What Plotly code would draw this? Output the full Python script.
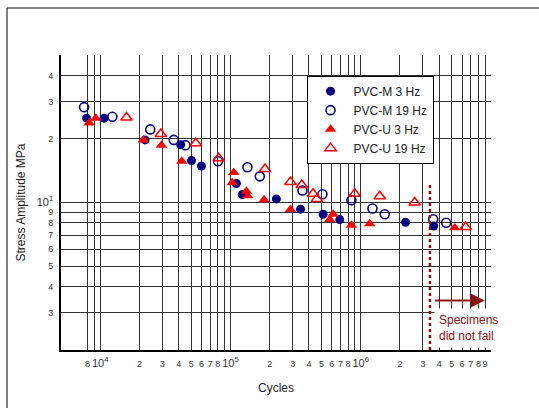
import math
import plotly.graph_objects as go

# Fatigue data: cycles to failure and stress amplitude (MPa)
pvcm3_cycles = [7850, 10700, 22100, 41500, 50200, 59900, 111000, 123000, 225000,
                345000, 514000, 690000, 2210000, 3630000]
pvcm3_stress = [25.1, 25.1, 19.8, 18.8, 15.8, 14.9, 12.3, 10.9, 10.4,
                9.3, 8.8, 8.3, 8.06, 7.74]

pvcm19_cycles = [7520, 12400, 24200, 36700, 45100, 80300, 135000, 168000, 357000,
                 508000, 848000, 1230000, 1530000, 3600000, 4530000]
pvcm19_stress = [28.3, 25.5, 22.2, 19.8, 18.7, 15.7, 14.7, 13.3, 11.4,
                 10.95, 10.26, 9.37, 8.8, 8.33, 8.02]

pvcu3_cycles = [8220, 9250, 21500, 29500, 42300, 106000, 103000, 132700, 135800,
                181000, 288700, 612800, 578100, 848400, 1172000, 5265000]
pvcu3_stress = [23.8, 25.1, 19.8, 18.7, 15.7, 13.86, 12.4, 11.3, 10.77,
                10.3, 9.26, 8.8, 8.3, 7.8, 7.94, 7.59]

pvcu19_cycles = [15900, 29200, 54200, 81300, 184000, 288700, 352600, 430500,
                 461900, 899500, 1399000, 2597000, 6394000]
pvcu19_stress = [25.3, 21.1, 19.1, 16.2, 14.4, 12.5, 12.1, 11.0,
                 10.4, 11.0, 10.7, 10.0, 7.66]

# Run-out marker: tests beyond this cycle count did not fail
runout_cycles = 3.4e6
runout_top_stress = 12.5
arrow_start_cycles = 3.63e6
arrow_end_cycles = 8.95e6
arrow_stress = 3.43

# Axis ticks
x_tickvals = [8e3, 1e4, 2e4, 3e4, 4e4, 5e4, 6e4, 7e4, 8e4, 1e5,
              2e5, 3e5, 4e5, 5e5, 6e5, 7e5, 8e5, 1e6,
              2e6, 3e6, 4e6, 5e6, 6e6, 7e6, 8e6, 9e6]
BIG = '<span style="font-size:11px">10<sup>%d</sup></span>'
x_ticktext = ["8", BIG % 4, "2", "3", "4", "5", "6", "7", "8", BIG % 5,
              "2", "3", "4", "5", "6", "7", "8", BIG % 6,
              "2", "3", "4", "5", "6", "7", "8", "9"]
x_unlabelled_grid = [9e3, 9e4, 9e5]
y_tickvals = [3, 4, 5, 6, 7, 8, 9, 10, 20, 30, 40]
y_ticktext = ["3", "4", "5", "6", "7", "8", "9", BIG % 1, "2", "3", "4"]

NAVY = "#00007F"
RED = "#FF0000"
DARKRED = "#8B1010"
FONT = "Liberation Sans, Arial, sans-serif"
GRID = "#333"

fig = go.Figure()
fig.add_trace(go.Scatter(x=pvcm3_cycles, y=pvcm3_stress, mode="markers", name="PVC-M 3 Hz",
                         marker=dict(symbol="circle", size=9, color=NAVY, line=dict(width=0))))
fig.add_trace(go.Scatter(x=pvcm19_cycles, y=pvcm19_stress, mode="markers", name="PVC-M 19 Hz",
                         marker=dict(symbol="circle-open", size=9, color=NAVY, line=dict(width=1.6))))
fig.add_trace(go.Scatter(x=pvcu3_cycles, y=pvcu3_stress, mode="markers", name="PVC-U 3 Hz",
                         marker=dict(symbol="triangle-up", size=10, color=RED, line=dict(width=0))))
fig.add_trace(go.Scatter(x=pvcu19_cycles, y=pvcu19_stress, mode="markers", name="PVC-U 19 Hz",
                         marker=dict(symbol="triangle-up-open", size=10, color=RED, line=dict(width=1.5))))

# dotted run-out line
fig.add_trace(go.Scatter(x=[runout_cycles, runout_cycles], y=[2, runout_top_stress], mode="lines",
                         line=dict(color=DARKRED, width=2.5, dash="dot"),
                         showlegend=False, hoverinfo="skip"))

annotations = [
    dict(x=math.log10(arrow_end_cycles), y=math.log10(arrow_stress),
         ax=math.log10(arrow_start_cycles), ay=math.log10(arrow_stress),
         xref="x", yref="y", axref="x", ayref="y", text="", showarrow=True,
         arrowhead=2, arrowsize=1.4, arrowwidth=2, arrowcolor=DARKRED),
    dict(x=math.log10(3.68e6), y=0.405, xref="x", yref="y", xanchor="left", yanchor="middle",
         text="Specimens<br>did not fail", showarrow=False, align="left",
         font=dict(family=FONT, size=12, color=DARKRED), bgcolor="white", borderpad=4),
]

shapes = [
    # outer frame (top and left edges)
    dict(type="line", xref="paper", yref="paper", x0=-0.1256, x1=1.2, y0=1.1593, y1=1.1593,
         line=dict(color="#555", width=1.5)),
    dict(type="line", xref="paper", yref="paper", x0=-0.1256, x1=-0.1256, y0=1.1593, y1=-0.3,
         line=dict(color="#555", width=1.5)),
]

fig.update_layout(
    width=539, height=408, autosize=False,
    margin=dict(l=61, r=48, t=55, b=58),
    paper_bgcolor="white", plot_bgcolor="white",
    font=dict(family=FONT, size=11, color="#222"),
    showlegend=True,
    legend=dict(x=0.571, y=0.93, xanchor="left", yanchor="top",
                bgcolor="white", bordercolor="black", borderwidth=1,
                font=dict(family=FONT, size=12, color="#222"), itemwidth=36,
                tracegroupgap=0),
    annotations=annotations,
    shapes=shapes,
)

fig.update_xaxes(type="log", range=[math.log10(5000), 7],
                 tickmode="array", tickvals=x_tickvals, ticktext=x_ticktext, tickangle=0,
                 tickfont=dict(size=9, color="#333"), ticks="", ticklabelstandoff=4,
                 showgrid=True, gridcolor=GRID, gridwidth=1,
                 minor=dict(tickmode="array", tickvals=x_unlabelled_grid, showgrid=True,
                            gridcolor=GRID, gridwidth=1, ticks=""),
                 showline=True, linecolor="black", linewidth=2, zeroline=False,
                 title=dict(text="Cycles", font=dict(size=12, color="#222"), standoff=16))
fig.update_yaxes(type="log", range=[math.log10(2), math.log10(50)],
                 tickmode="array", tickvals=y_tickvals, ticktext=y_ticktext, tickangle=0,
                 tickfont=dict(size=9, color="#333"), ticks="", ticklabelstandoff=4,
                 showgrid=True, gridcolor=GRID, gridwidth=1,
                 showline=True, linecolor="black", linewidth=2, zeroline=False,
                 title=dict(text="Stress Amplitude MPa", font=dict(size=12, color="#222"), standoff=8))

fig.write_html("out.html")
